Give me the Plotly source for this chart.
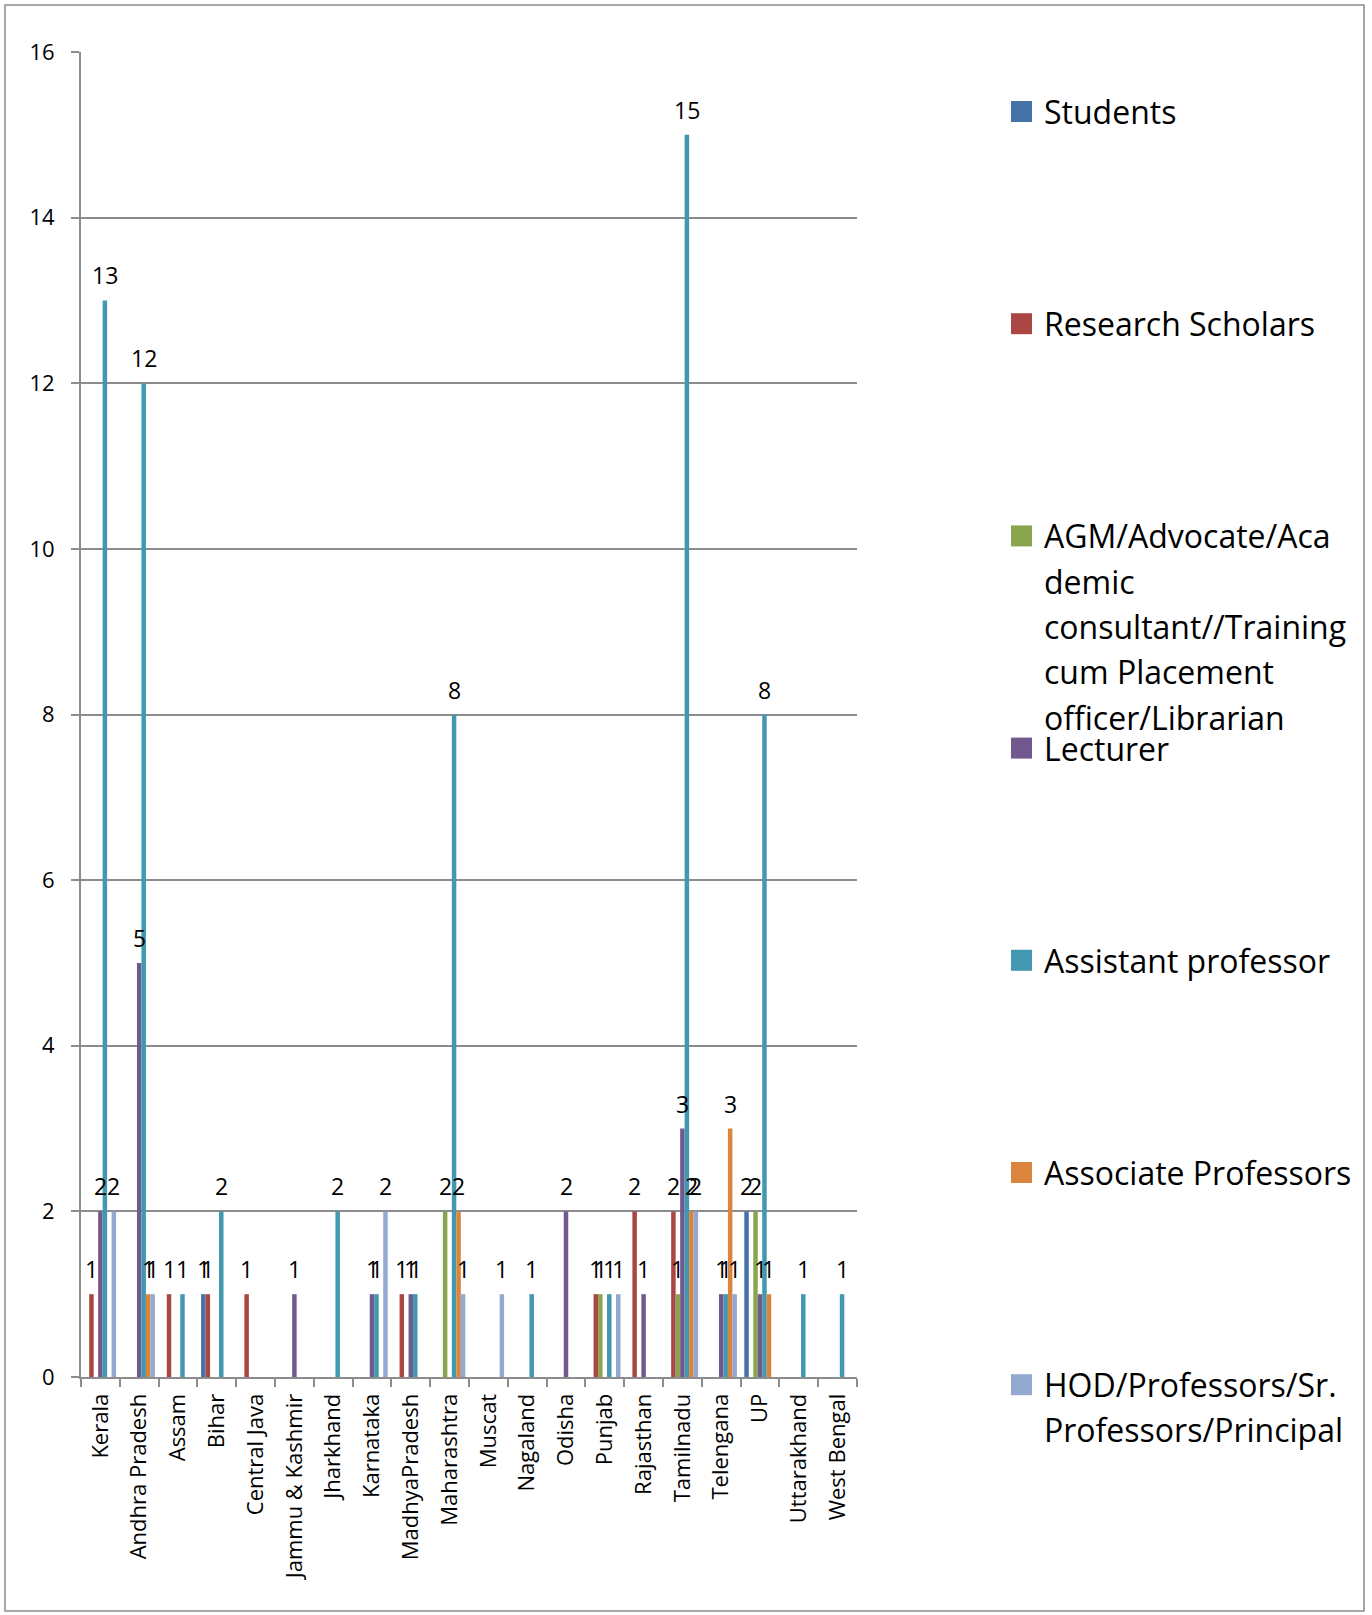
import plotly.graph_objects as go

# ---------------- data ----------------
categories = ["Kerala", "Andhra Pradesh", "Assam", "Bihar", "Central Java",
              "Jammu & Kashmir", "Jharkhand", "Karnataka", "MadhyaPradesh",
              "Maharashtra", "Muscat", "Nagaland", "Odisha", "Punjab",
              "Rajasthan", "Tamilnadu", "Telengana", "UP", "Uttarakhand",
              "West Bengal"]

series_names = ["Students", "Research Scholars",
                "AGM/Advocate/Academic consultant//Training cum Placement officer/Librarian",
                "Lecturer", "Assistant professor", "Associate Professors",
                "HOD/Professors/Sr. Professors/Principal"]

students = [None, None, None, 1, None, None, None, None, None, None,
            None, None, None, None, None, None, None, 2, None, None]
research_scholars = [1, None, 1, 1, 1, None, None, None, 1, None,
                     None, None, None, 1, 2, 2, None, None, None, None]
agm_others = [None, None, None, None, None, None, None, None, None, 2,
              None, None, None, 1, None, 1, None, 2, None, None]
lecturer = [2, 5, None, None, None, 1, None, 1, 1, None,
            None, None, 2, None, 1, 3, 1, 1, None, None]
assistant_prof = [13, 12, 1, 2, None, None, 2, 1, 1, 8,
                  None, 1, None, 1, None, 15, 1, 8, 1, 1]
associate_prof = [None, 1, None, None, None, None, None, None, None, 2,
                  None, None, None, None, None, 2, 3, 1, None, None]
hod_prof = [2, 1, None, None, None, None, None, 2, None, 1,
            1, None, None, 1, None, 2, 1, None, None, None]

series_values = [students, research_scholars, agm_others, lecturer,
                 assistant_prof, associate_prof, hod_prof]

legend_lines = [["Students"], ["Research Scholars"],
                ["AGM/Advocate/Aca", "demic", "consultant//Training",
                 "cum Placement", "officer/Librarian"],
                ["Lecturer"], ["Assistant professor"], ["Associate Professors"],
                ["HOD/Professors/Sr.", "Professors/Principal"]]

y_ticks = [0, 2, 4, 6, 8, 10, 12, 14, 16]

# ---------------- style ----------------
colors = ["#4572A7", "#AA4643", "#89A54E", "#71588F", "#4198AF", "#DB843D", "#93A9CF"]
FONT = "Open Sans"
W, H = 1372, 1615
PL, PR, PT, PB = 81, 857, 52, 1377  # plot area in pixels
GRID = "#8C8C8C"
BARGAP = 0.19
LABEL_SIZE = 23
LABEL_LIFT = 25  # px between bar top and label centre


def px_x(px):
    return (px - PL) / (PR - PL)


def px_y(py):
    return (PB - py) / (PB - PT)


n_series = len(series_names)
bar_px = (PR - PL) / len(categories) * (1 - BARGAP) / n_series

fig = go.Figure()
for k, (name, vals, color) in enumerate(zip(series_names, series_values, colors)):
    fig.add_trace(go.Bar(
        name=name, x=categories, y=vals,
        marker=dict(color=color, line=dict(width=0)),
        hoverinfo="x+y+name",
    ))
    # data labels above each bar
    for cat, v in zip(categories, vals):
        if v is None:
            continue
        fig.add_annotation(
            x=cat, y=v, xref="x", yref="y", text=str(v), showarrow=False,
            xanchor="center", yanchor="middle",
            xshift=(k - (n_series - 1) / 2) * bar_px, yshift=LABEL_LIFT,
            font=dict(size=LABEL_SIZE, color="black", family=FONT),
        )

fig.update_layout(
    width=W, height=H,
    margin=dict(l=PL, r=W - PR, t=PT, b=H - PB, pad=0),
    paper_bgcolor="white", plot_bgcolor="white",
    barmode="group", bargap=BARGAP, bargroupgap=0,
    showlegend=False,
    font=dict(family=FONT, color="black"),
)

fig.update_yaxes(
    range=[0, 16], tickvals=y_ticks, showgrid=True, gridcolor=GRID, gridwidth=2,
    showline=True, linecolor=GRID, linewidth=2, zeroline=False,
    ticks="outside", ticklen=8, tickwidth=2, tickcolor=GRID,
    tickfont=dict(size=22, color="black", family=FONT), ticklabelstandoff=12,
)
fig.update_xaxes(
    type="category", showline=True, linecolor=GRID, linewidth=2,
    ticks="outside", tickson="boundaries", ticklen=8, tickwidth=2, tickcolor=GRID,
    tickangle=-90, tickfont=dict(size=22, color="black", family=FONT),
    ticklabelstandoff=6,
)

# outer frame
fig.add_shape(type="rect", xref="paper", yref="paper",
              x0=px_x(5), x1=px_x(1364), y0=px_y(1611), y1=px_y(5),
              line=dict(color="#8C8C8C", width=1.5), fillcolor="rgba(0,0,0,0)",
              layer="below")

# manual legend (Excel-like fixed spacing)
leg_start, leg_step, line_step = 111.5, 212.2, 45.3
for i, (lines, color) in enumerate(zip(legend_lines, colors)):
    cy = leg_start + i * leg_step
    fig.add_shape(type="rect", xref="paper", yref="paper",
                  x0=px_x(1011), x1=px_x(1032), y0=px_y(cy + 10.5), y1=px_y(cy - 10.5),
                  line=dict(width=0), fillcolor=color)
    for j, txt in enumerate(lines):
        fig.add_annotation(xref="paper", yref="paper", x=px_x(1042), y=px_y(cy + j * line_step),
                           text=txt, showarrow=False, xanchor="left", yanchor="middle",
                           font=dict(size=32, color="black", family=FONT))

fig.write_html("out.html", config={"displayModeBar": False},
               post_script="document.body.style.margin='0px';")
